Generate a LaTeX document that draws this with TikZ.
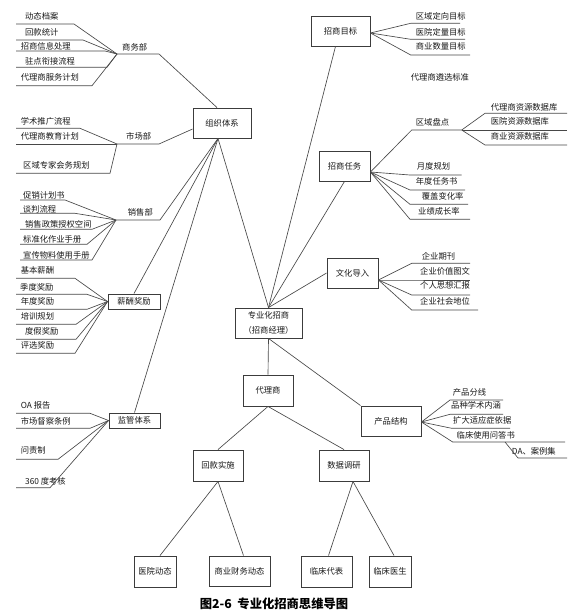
\documentclass[tikz,border=0pt]{standalone}
\usepackage{fontspec}
\setmainfont{Noto Sans CJK SC}
\definecolor{lnc}{HTML}{484848}
\definecolor{boxc}{HTML}{3C3C3C}
\newcommand\fsx{\fontsize{8.3}{10}\selectfont}
\tikzset{
  ln/.style={draw=lnc, line width=0.65pt},
  bx/.style={draw=boxc, line width=0.9pt, fill=white, inner sep=0pt, font=\fsx, align=center, text=black!90},
  lab/.style={inner sep=0pt, anchor=west, font=\fsx, text=black!90}
}
% left leaf: underline a--b then to hub at right
\newcommand\lfL[8]{\node[lab] (#1) at (#2,#3) {#4};
  \coordinate (#1a) at (#6,#5); \coordinate (#1b) at (#7,#5);
  \draw[ln] (#1a) -- (#1b) -- (#8);}
% right leaf: hub at left, then underline a--b
\newcommand\lfR[8]{\node[lab] (#1) at (#2,#3) {#4};
  \coordinate (#1a) at (#6,#5); \coordinate (#1b) at (#7,#5);
  \draw[ln] (#8) -- (#1a) -- (#1b);}
\begin{document}
\begin{tikzpicture}[x=1pt,y=-1pt]
\useasboundingbox[fill=white] (0,0) rectangle (587,614);

% ---------- boxes ----------
\node[bx,minimum width=58,minimum height=30] (zz) at (222,123) {组织体系};
\node[bx,minimum width=59,minimum height=30] (mb) at (340.5,31) {招商目标};
\node[bx,minimum width=51,minimum height=30] (rw) at (344.5,166) {招商任务};
\node[bx,minimum width=51,minimum height=30] (wh) at (352.5,273) {文化导入};
\node[bx,minimum width=67,minimum height=30,font=\fontsize{8.3}{15}\selectfont] (zy) at (268.5,323) {专业化招商\\（招商经理）};
\node[bx,minimum width=50,minimum height=31] (dl) at (268,390.5) {代理商};
\node[bx,minimum width=60,minimum height=30] (cp) at (391,421) {产品结构};
\node[bx,minimum width=50,minimum height=31] (hk) at (218,465.5) {回款实施};
\node[bx,minimum width=50,minimum height=31] (sj) at (344,465.5) {数据调研};
\node[bx,minimum width=42,minimum height=31] (yy) at (155,571.5) {医院动态};
\node[bx,minimum width=61,minimum height=30] (sy) at (239.5,571) {商业财务动态};
\node[bx,minimum width=51,minimum height=31] (lb) at (326.5,571.5) {临床代表};
\node[bx,minimum width=42,minimum height=31] (ly) at (390,571.5) {临床医生};
\node[bx,minimum width=52,minimum height=15] (xc) at (134,301.5) {薪酬奖励};
\node[bx,minimum width=51,minimum height=15] (jg) at (134.5,420.5) {监管体系};

% ---------- hubs ----------
\coordinate (zzb) at ([xshift=-4]zz.south);
\coordinate (hMB) at ([yshift=-2]mb.east);
\coordinate (hRW) at ([yshift=-6]rw.east);
\coordinate (hWH) at ([yshift=-7]wh.east);
\coordinate (hCP) at ([yshift=-1]cp.east);
\coordinate (hSJ) at ([xshift=9]sj.south);

% ---------- main connectors ----------
\draw[ln] (zy.north) -- (zzb);
\draw[ln] (zy.north) -- ([xshift=-5]mb.south);
\draw[ln] (zy.north) -- (rw.south);
\draw[ln] (zy.north) -- (wh.west);
\draw[ln] (zy.south) -- (dl.north);
\draw[ln] (zy.south) -- (cp.north west);
\draw[ln] (dl.south) -- (hk.north);
\draw[ln] (dl.south) -- (sj.north);
\draw[ln] (hk.south) -- ([xshift=5]yy.north);
\draw[ln] (hk.south) -- ([xshift=4]sy.north);
\draw[ln] (hSJ) -- ([xshift=2]lb.north);
\draw[ln] (hSJ) -- ([xshift=4]ly.north);
\draw[ln] (xc.north) -- (zzb);
\draw[ln] (jg.north) -- (zzb);

% ---------- 商务部 ----------
\node[lab] (swb) at (122,47.7) {商务部};
\coordinate (hSW) at (117,54); \coordinate (swe) at (159,54);
\draw[ln] (hSW) -- (swe) -- ([xshift=-5]zz.north);
\lfL{a1}{25}{16.7}{动态档案}{24}{16}{74}{hSW}
\lfL{a2}{25}{32.3}{回款统计}{40}{16}{83}{hSW}
\lfL{a3}{20.7}{46.7}{招商信息处理}{51}{16}{105}{hSW}
\lfL{a4}{25}{61.7}{驻点衔接流程}{67.3}{16}{107}{hSW}
\lfL{a5}{20.7}{77.3}{代理商服务计划}{85.7}{16}{92}{hSW}

% ---------- 市场部 ----------
\node[lab] (scb) at (126,136.7) {市场部};
\coordinate (hSC) at (117,144); \coordinate (sce) at (159,144);
\draw[ln] (hSC) -- (sce) -- ([yshift=-6]zz.west);
\lfL{b1}{20.7}{121}{学术推广流程}{128.3}{16}{80}{hSC}
\lfL{b2}{20.7}{136.7}{代理商教育计划}{144}{16}{117}{hSC}
\lfL{b3}{23}{165.7}{区域专家会务规划}{173.3}{16}{110}{hSC}

% ---------- 销售部 ----------
\node[lab] (xsb) at (127.7,212.3) {销售部};
\coordinate (hXS) at (116,220); \coordinate (xse) at (160,220);
\draw[ln] (hXS) -- (xse) -- (zzb);
\lfL{c1}{23}{195.2}{促销计划书}{200}{20}{65}{hXS}
\lfL{c2}{22.7}{209}{谈判流程}{213.3}{20}{75}{hXS}
\lfL{c3}{25}{224.5}{销售政策授权空间}{229.3}{20}{92}{hXS}
\lfL{c4}{23}{239.5}{标准化作业手册}{244.3}{20}{87}{hXS}
\lfL{c5}{23}{255}{宣传物料使用手册}{260}{20}{92}{hXS}

% ---------- 薪酬奖励 ----------
\lfL{d1}{20.7}{270}{基本薪酬}{278.3}{16}{75}{xc.west}
\lfL{d2}{20}{287.3}{季度奖励}{294.3}{16}{87}{xc.west}
\lfL{d3}{20.7}{301.7}{年度奖励}{309.3}{16}{87}{xc.west}
\lfL{d4}{20.7}{316.7}{培训规划}{324.3}{16}{76}{xc.west}
\lfL{d5}{25}{331.7}{度假奖励}{339.3}{16}{76}{xc.west}
\lfL{d6}{20.7}{345.7}{评选奖励}{353.3}{16}{75}{xc.west}

% ---------- 监管体系 ----------
\lfL{e1}{20.7}{405.7}{OA 报告}{413.3}{16}{90}{jg.west}
\lfL{e2}{20.7}{421.7}{市场督察条例}{428.3}{16}{90}{jg.west}
\lfL{e3}{20.7}{450.7}{问责制}{459.3}{16}{58}{jg.west}
\lfL{e4}{25}{481.7}{360 度考核}{487.7}{16}{50}{jg.west}

% ---------- 招商目标 ----------
\lfR{f1}{415.7}{16}{区域定向目标}{23.3}{410.7}{460}{hMB}
\lfR{f2}{415.7}{32.3}{医院定量目标}{39.3}{410.7}{465}{hMB}
\lfR{f3}{415.7}{46.7}{商业数量目标}{55}{410.7}{470}{hMB}
\node[lab] (f4) at (410.7,77.7) {代理商遴选标准};

% ---------- 招商任务 ----------
\lfR{g1}{415.7}{122.7}{区域盘点}{130}{411.7}{461.7}{hRW}
\lfR{g2}{490.7}{107.3}{代理商资源数据库}{113.3}{485}{567}{g1b}
\lfR{g3}{490.7}{121.7}{医院资源数据库}{130}{461.7}{567}{g1b}
\lfR{g4}{490.7}{136.7}{商业资源数据库}{145}{485}{567}{g1b}
\lfR{g5}{416.7}{166}{月度规划}{175}{410}{461.7}{hRW}
\lfR{g6}{415.7}{181.7}{年度任务书}{190}{410}{465}{hRW}
\lfR{g7}{421.7}{196.7}{覆盖变化率}{204.3}{410}{468}{hRW}
\lfR{g8}{418}{211}{业绩成长率}{219.3}{410}{470}{hRW}

% ---------- 文化导入 ----------
\lfR{h1}{421.7}{256}{企业期刊}{263.3}{411.7}{470}{hWH}
\lfR{h2}{420}{271.7}{企业价值图文}{280}{378}{470}{hWH}
\lfR{h3}{420}{285.7}{个人思想汇报}{295}{411.7}{470}{hWH}
\lfR{h4}{420}{301}{企业社会地位}{310}{411.7}{478}{hWH}

% ---------- 产品结构 ----------
\lfR{i1}{452.7}{392.3}{产品分线}{400}{450}{503}{hCP}
\lfR{i2}{451}{405}{品种学术内涵}{414.3}{450}{503}{hCP}
\lfR{i3}{453}{420.7}{扩大适应症依据}{428.3}{451.7}{510}{hCP}
\lfR{i4}{456.5}{435.7}{临床使用问答书}{442}{452.7}{565}{hCP}
\node[lab] (i5) at (511.7,451) {DA、案例集};
\coordinate (i5s) at (505,442); \coordinate (i5a) at (518,458); \coordinate (i5b) at (567,458);
\draw[ln] (i5s) -- (i5a) -- (i5b);

% ---------- caption ----------
\node[font=\fontsize{12.3}{13}\selectfont\bfseries, inner sep=0pt] (cap) at (274,604) {图2-6\ \ 专业化招商思维导图};
\end{tikzpicture}
\end{document}
